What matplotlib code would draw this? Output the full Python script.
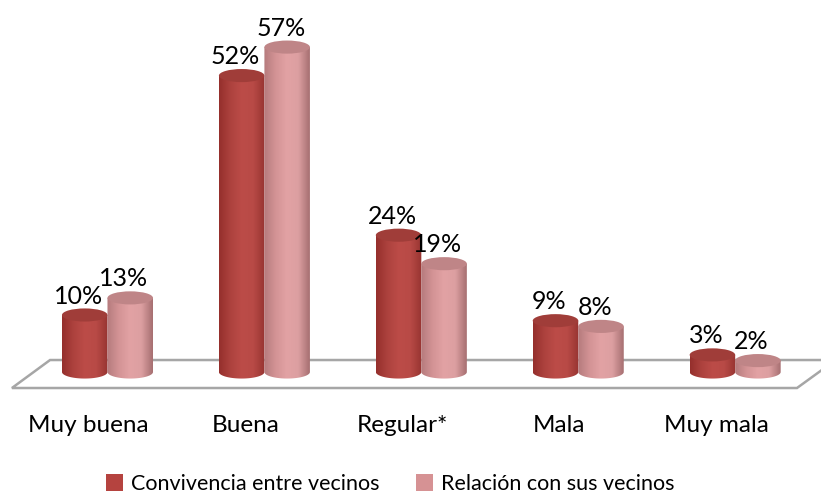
import numpy as np
import matplotlib
matplotlib.use("Agg")
import matplotlib.pyplot as plt
from matplotlib.patches import Polygon, Ellipse, PathPatch, Patch
from matplotlib.path import Path
from matplotlib.colors import LinearSegmentedColormap

plt.rcParams['font.family'] = ['Lato', 'DejaVu Sans']

categories = ["Muy buena", "Buena", "Regular*", "Mala", "Muy mala"]
convivencia = [10, 52, 24, 9, 3]
relacion = [13, 57, 19, 8, 2]
series_names = ["Convivencia entre vecinos", "Relación con sus vecinos"]

fig = plt.figure(figsize=(8.21, 4.95), dpi=100)
ax = fig.add_axes([0, 0, 1, 1])
ax.set_xlim(-0.685, 4.547)
ax.set_ylim(-21.58, 65.26)
ax.axis('off')

# floor
floor = Polygon([(-0.609, -2.81), (4.394, -2.81), (4.64, 2.1), (-0.366, 2.1)],
                closed=True, facecolor='white', edgecolor='#A6A6A6', lw=1.8, zorder=1)
ax.add_patch(floor)

dark_grad = ['#952F2C', '#AD423E', '#BC4C48', '#B84A46', '#973431']
pink_grad = ['#B57B7D', '#D39395', '#E2A2A4', '#DC9FA1', '#A66F71']
dark_top = '#A03D39'
pink_top = '#BF8587'

w = 0.29
eh = 2.3
off = 0.145

def cylinder(xc, h, grad, topc, z):
    x0, x1 = xc - w / 2, xc + w / 2
    t = np.linspace(np.pi, 2 * np.pi, 60)
    bx = xc + (w / 2) * np.cos(t)
    by = (eh / 2) * np.sin(t)
    verts = [(x0, h)] + list(zip(bx, by)) + [(x1, h), (x0, h)]
    codes = [Path.MOVETO] + [Path.LINETO] * (len(verts) - 2) + [Path.CLOSEPOLY]
    path = Path(verts, codes)
    clip = PathPatch(path, facecolor='none', edgecolor='none', transform=ax.transData)
    ax.add_patch(clip)
    cmap = LinearSegmentedColormap.from_list('g', grad)
    img = ax.imshow(np.linspace(0, 1, 200).reshape(1, -1), cmap=cmap,
                    extent=[x0, x1, -eh, h], aspect='auto', interpolation='bicubic',
                    zorder=z)
    img.set_clip_path(clip)
    ax.add_patch(Ellipse((xc, h), w, eh, facecolor=topc, edgecolor='none', zorder=z + 0.1))

for i in range(len(categories)):
    cylinder(i - off, convivencia[i], dark_grad, dark_top, 3)
    cylinder(i + off, relacion[i], pink_grad, pink_top, 4)
    ax.text(i - off - 0.04, convivencia[i] + 2.0, f"{convivencia[i]}%", ha='center',
            va='baseline', fontsize=18, color='black', zorder=10)
    ax.text(i + off - 0.04, relacion[i] + 2.0, f"{relacion[i]}%", ha='center',
            va='baseline', fontsize=18, color='black', zorder=10)
    ax.text(i - 0.12, -10.5, categories[i], ha='center', va='baseline', fontsize=17.5,
            color='black')

ax.set_xlim(-0.685, 4.547)
ax.set_ylim(-21.58, 65.26)

handles = [Patch(facecolor='#B5433F', edgecolor='none'),
           Patch(facecolor='#D69294', edgecolor='none')]
fig.legend(handles, series_names, loc='center', bbox_to_anchor=(0.475, 0.022),
           ncol=2, frameon=False, fontsize=15.5, handlelength=0.8, handleheight=0.8,
           handletextpad=0.35, columnspacing=1.7, borderpad=0)

fig.savefig('out.png', dpi=100)
